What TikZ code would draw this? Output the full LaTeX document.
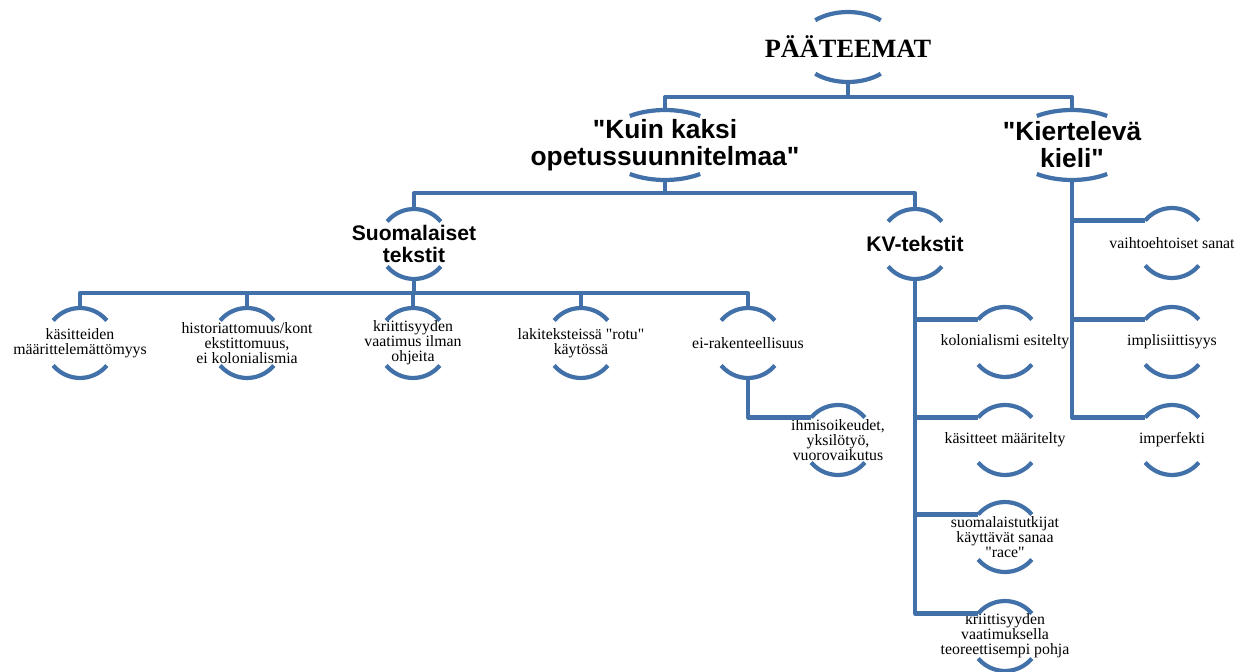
\documentclass[tikz,border=0pt]{standalone}
\usepackage{fontspec}
\setmainfont{Liberation Serif}[Ligatures=TeXOff]
\setsansfont{Liberation Sans}[Ligatures=TeXOff]

\definecolor{linkblue}{RGB}{66,112,168}

\newcommand{\bracketpair}[4]{%
  \draw[bracketline] ([shift={(#4:#2 and #3)}]#1.center) arc[start angle=#4,end angle=180-#4,x radius=#2,y radius=#3];
  \draw[bracketline] ([shift={(180+#4:#2 and #3)}]#1.center) arc[start angle=180+#4,end angle=360-#4,x radius=#2,y radius=#3];
}

\begin{document}
\begin{tikzpicture}[x=0.02cm,y=0.02cm,
  link/.style={draw=linkblue,line width=2.4pt,line join=round},
  bracketline/.style={draw=linkblue,line width=2.4pt},
  theme/.style={inner sep=0pt,minimum height=1.4cm,align=center,font=\fontsize{15}{16}\selectfont\bfseries},
  maintopic/.style={inner sep=0pt,minimum height=1.4cm,align=center,font=\sffamily\bfseries\fontsize{15}{15.3}\selectfont},
  subtopic/.style={inner sep=0pt,minimum height=1.4cm,align=center,font=\sffamily\bfseries\fontsize{12}{12.5}\selectfont},
  leaf/.style={inner sep=0pt,minimum height=1.4cm,align=center,font=\fontsize{9}{8.6}\selectfont}]
  \useasboundingbox (0,0) rectangle (1251,-672);

  \node[theme](root) at (848,-47) {PÄÄTEEMAT};
  \node[maintopic](kuin) at (665,-145) {"Kuin kaksi\\opetussuunnitelmaa"};
  \node[maintopic](kierto) at (1072,-145) {"Kiertelevä\\kieli"};
  \node[subtopic](suom) at (414,-244) {Suomalaiset\\tekstit};
  \node[subtopic](kv) at (915,-244) {KV-tekstit};

  \node[leaf](l1) at (80,-343) {käsitteiden\\määrittelemättömyys};
  \node[leaf](l2) at (247,-343) {historiattomuus/kont\\ekstittomuus,\\ei kolonialismia};
  \node[leaf](l3) at (413,-343) {kriittisyyden\\vaatimus ilman\\ohjeita};
  \node[leaf](l4) at (581,-343) {lakiteksteissä "rotu"\\käytössä};
  \node[leaf](l5) at (748,-343) {ei-rakenteellisuus};
  \node[leaf](ihmis) at (838,-440) {ihmisoikeudet,\\yksilötyö,\\vuorovaikutus};

  \node[leaf](kvA) at (1005,-342) {kolonialismi esitelty};
  \node[leaf](kvB) at (1005,-440) {käsitteet määritelty};
  \node[leaf](kvC) at (1005,-537) {suomalaistutkijat\\käyttävät sanaa\\"race"};
  \node[leaf](kvD) at (1005,-636) {kriittisyyden\\vaatimuksella\\teoreettisempi pohja};

  \node[leaf](kiA) at (1172,-243) {vaihtoehtoiset sanat};
  \node[leaf](kiB) at (1172,-342) {implisiittisyys};
  \node[leaf](kiC) at (1172,-440) {imperfekti};

  \bracketpair{root}{1.02cm}{0.7cm}{50}
  \bracketpair{kuin}{1.26cm}{0.7cm}{56}
  \bracketpair{kierto}{1.26cm}{0.7cm}{56}
  \foreach \n in {suom,kv,l1,l2,l3,l4,l5,ihmis,kvA,kvB,kvC,kvD,kiA,kiB,kiC}
    {\bracketpair{\n}{0.7cm}{0.7cm}{40}}

  \draw[link] (root.south) -- ++(0,-15) -| (kuin.north);
  \draw[link] (root.south) -- ++(0,-15) -| (kierto.north);
  \draw[link] (kuin.south) -- ++(0,-13) -| (suom.north);
  \draw[link] (kuin.south) -- ++(0,-13) -| (kv.north);
  \foreach \n in {l1,l2,l3,l4,l5}
    \draw[link] (suom.south) -- ++(0,-14) -| (\n.north);

  \draw[link] (l5.south) |- ([shift={(140:0.7cm)}]ihmis.center);
  \foreach \n in {kvA,kvB,kvC,kvD}
    \draw[link] (kv.south) |- ([shift={(140:0.7cm)}]\n.center);
  \foreach \n in {kiA,kiB,kiC}
    \draw[link] (kierto.south) |- ([shift={(140:0.7cm)}]\n.center);
\end{tikzpicture}
\end{document}
